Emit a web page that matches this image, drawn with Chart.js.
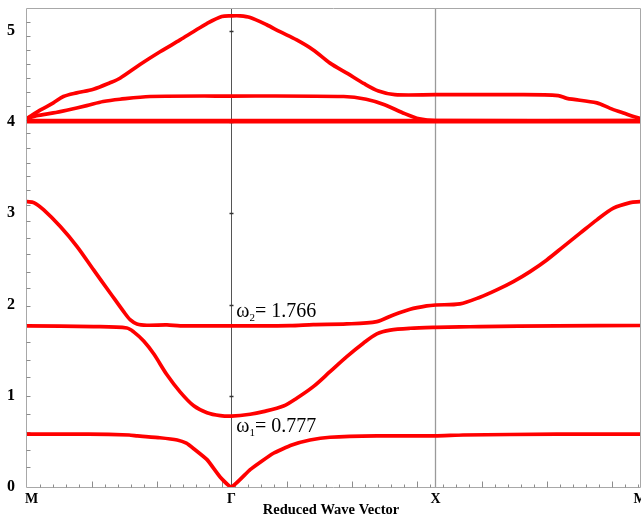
<!DOCTYPE html>
<html>
<head>
<meta charset="utf-8">
<script src="https://cdn.jsdelivr.net/npm/chart.js@4"></script>
<style>
  html, body { margin: 0; padding: 0; background: #ffffff; }
  canvas { display: block; }
</style>
</head>
<body>
<canvas id="bands" width="641" height="517"></canvas>
<script>
// Path through the Brillouin zone: M -> Γ -> X -> M, each leg of unit length
const symmetryLabels = ['M', 'Γ', 'X', 'M'];
const symmetryK = [0, 1, 2, 3];
const yTickLabels = ['0', '1', '2', '3', '4', '5'];
const yTickValues = [0, 1, 2, 3, 4, 5];
// Minor tick marks along the frequency axis
const yMinorTicks = [0.214, 0.410, 0.606, 0.803, 1.000, 1.204, 1.393, 1.590, 1.786, 1.982,
  2.180, 2.358, 2.554, 2.733, 2.912, 3.089, 3.250, 3.411, 3.554, 3.715, 3.875, 4.025,
  4.178, 4.329, 4.482, 4.633, 4.786, 4.947, 5.097];

// Frequencies at Γ quoted in the annotations
const omega1 = 0.777;
const omega2 = 1.766;

// Dispersion branches: reduced wave vector (k) and normalised frequency (w)
const band1K = [0, 0.3, 0.5, 0.54, 0.65, 0.735, 0.78, 0.816, 0.881, 0.945, 1.0, 1.092, 1.206, 1.296, 1.385, 1.483, 1.712, 2.0, 2.134, 2.593, 3.0];
const band1W = [0.58, 0.58, 0.57, 0.56, 0.54, 0.515, 0.48, 0.42, 0.30, 0.11, 0, 0.19, 0.37, 0.46, 0.515, 0.545, 0.56, 0.56, 0.57, 0.58, 0.58];

const band2K = [0, 0.326, 0.489, 0.522, 0.571, 0.620, 0.685, 0.750, 0.816, 0.881, 0.946, 1.0, 1.092, 1.157, 1.255, 1.320, 1.401, 1.483, 1.565, 1.646, 1.712, 1.777, 1.875, 2.0, 2.119, 2.217, 2.593, 3.0];
const band2W = [1.765, 1.758, 1.743, 1.70, 1.60, 1.46, 1.23, 1.04, 0.89, 0.815, 0.783, omega1, 0.797, 0.826, 0.888, 0.973, 1.10, 1.264, 1.429, 1.576, 1.678, 1.72, 1.74, 1.75, 1.755, 1.758, 1.766, 1.77];

const band3K = [0, 0.033, 0.082, 0.163, 0.245, 0.326, 0.408, 0.473, 0.506, 0.538, 0.587, 0.685, 0.750, 1.0, 1.287, 1.401, 1.565, 1.712, 1.793, 1.875, 1.956, 2.0, 2.119, 2.217, 2.299, 2.380, 2.462, 2.544, 2.625, 2.707, 2.789, 2.870, 2.952, 3.0];
const band3W = [3.128, 3.117, 3.037, 2.854, 2.635, 2.379, 2.124, 1.922, 1.831, 1.787, 1.773, 1.776, 1.766, omega2, 1.769, 1.78, 1.787, 1.813, 1.886, 1.948, 1.985, 1.995, 2.007, 2.08, 2.16, 2.251, 2.361, 2.489, 2.635, 2.782, 2.928, 3.056, 3.117, 3.128];

const band4K = [0, 1, 2, 3];
const band4W = [4.01, 4.01, 4.01, 4.01];

const band5K = [0, 0.047, 0.129, 0.194, 0.292, 0.373, 0.455, 0.602, 1.0, 1.55, 1.66, 1.75, 1.84, 1.92, 2.0, 3.0];
const band5W = [4.04, 4.07, 4.10, 4.13, 4.18, 4.225, 4.25, 4.28, 4.285, 4.28, 4.25, 4.19, 4.10, 4.035, 4.015, 4.015];

const band6K = [0, 0.064, 0.129, 0.178, 0.243, 0.325, 0.406, 0.455, 0.553, 0.651, 0.749, 0.814, 0.880, 0.953, 1.0, 1.043, 1.092, 1.173, 1.238, 1.320, 1.401, 1.483, 1.57, 1.65, 1.72, 1.8, 2.0, 2.4, 2.6, 2.642, 2.789, 2.854, 2.919, 2.968, 3.0];
const band6W = [4.04, 4.13, 4.21, 4.28, 4.32, 4.36, 4.43, 4.48, 4.63, 4.77, 4.90, 4.99, 5.08, 5.157, 5.164, 5.164, 5.146, 5.066, 4.99, 4.90, 4.79, 4.646, 4.53, 4.42, 4.34, 4.30, 4.30, 4.30, 4.29, 4.26, 4.21, 4.15, 4.10, 4.06, 4.04];

const RED = '#ff0000';
const SERIF = '"Liberation Serif", "Times New Roman", serif';

function points(ks, ws) {
  return ks.map((k, i) => ({ x: k, y: ws[i] }));
}

function branch(ks, ws, width, tension) {
  return {
    data: points(ks, ws),
    showLine: true,
    borderColor: RED,
    backgroundColor: RED,
    borderWidth: width,
    pointRadius: 0,
    pointHoverRadius: 0,
    tension: tension,
    borderJoinStyle: 'round',
    borderCapStyle: 'round',
    fill: false
  };
}

// Frame, symmetry-point verticals, inward tick marks and all text
const bandFrame = {
  id: 'bandFrame',
  beforeDatasetsDraw(chart) {
    const { ctx, chartArea: a, scales: { x, y } } = chart;
    ctx.save();
    ctx.lineWidth = 1;

    // vertical lines at Γ and X
    const gx = Math.round(x.getPixelForValue(symmetryK[1])) + 0.5;
    const xx = Math.round(x.getPixelForValue(symmetryK[2])) - 0.5;
    ctx.strokeStyle = '#9a9a9a';
    ctx.lineWidth = 1.3;
    ctx.beginPath();
    ctx.moveTo(xx, a.top); ctx.lineTo(xx, a.bottom);
    ctx.stroke();
    ctx.strokeStyle = '#555555';
    ctx.lineWidth = 1;
    ctx.beginPath();
    ctx.moveTo(gx, a.top); ctx.lineTo(gx, a.bottom);
    ctx.stroke();
    // small ticks on the Γ line at whole frequencies
    ctx.strokeStyle = '#333333';
    ctx.lineWidth = 1.5;
    yTickValues.slice(1).forEach(v => {
      const py = Math.round(y.getPixelForValue(v)) + 0.5;
      ctx.beginPath();
      ctx.moveTo(gx - 2, py); ctx.lineTo(gx + 2, py);
      ctx.stroke();
    });

    // outer frame
    ctx.strokeStyle = '#a8a8a8';
    ctx.lineWidth = 1;
    const L = a.left - 0.5, R = a.right + 0.5, T = a.top + 0.5, B = a.bottom + 0.5;
    ctx.beginPath();
    ctx.moveTo(L, T); ctx.lineTo(R, T);
    ctx.moveTo(R, T); ctx.lineTo(R, B);
    ctx.moveTo(L, T); ctx.lineTo(L, B);
    ctx.moveTo(L, B); ctx.lineTo(R, B);
    ctx.stroke();

    // tick marks on the wave-vector axis (pointing into the plot)
    const step = 1 / (5 * Math.PI);
    ctx.strokeStyle = '#8c8c8c';
    for (let n = 1; n * step <= symmetryK[3] + 1e-9; n++) {
      const px = Math.round(x.getPixelForValue(n * step)) + 0.5;
      const len = n % 5 === 0 ? 6 : 3;
      ctx.beginPath();
      ctx.moveTo(px, B); ctx.lineTo(px, B - len);
      ctx.stroke();
    }
    // tick marks on the frequency axis
    yMinorTicks.forEach(v => {
      const py = Math.round(y.getPixelForValue(v)) + 0.5;
      ctx.beginPath();
      ctx.moveTo(L, py); ctx.lineTo(L + 4, py);
      ctx.stroke();
    });
    ctx.restore();
  },
  afterDraw(chart) {
    const { ctx, chartArea: a, scales: { x, y } } = chart;
    ctx.save();
    ctx.fillStyle = '#000000';

    // frequency labels
    ctx.font = 'bold 16px ' + SERIF;
    ctx.textAlign = 'left';
    ctx.textBaseline = 'middle';
    yTickValues.forEach((v, i) => {
      ctx.fillText(yTickLabels[i], 7, y.getPixelForValue(v));
    });

    // symmetry point labels
    ctx.font = 'bold 14px ' + SERIF;
    ctx.textBaseline = 'alphabetic';
    symmetryK.forEach((k, i) => {
      const px = x.getPixelForValue(k);
      if (i === 0) {
        ctx.textAlign = 'left';
        ctx.fillText(symmetryLabels[i], px - 2, a.bottom + 16);
      } else {
        ctx.textAlign = 'center';
        ctx.fillText(symmetryLabels[i], px, a.bottom + 16);
      }
    });

    // axis title
    ctx.font = 'bold 14.5px ' + SERIF;
    ctx.textAlign = 'center';
    ctx.fillText('Reduced Wave Vector', 331, a.bottom + 27);

    // annotations of the Γ-point frequencies
    const note = (idx, value, dy) => {
      const px = x.getPixelForValue(symmetryK[1]) + 5;
      const py = y.getPixelForValue(value) + dy;
      ctx.textAlign = 'left';
      ctx.font = '20px ' + SERIF;
      ctx.fillText('ω', px, py);
      let w = ctx.measureText('ω').width;
      ctx.font = '11px ' + SERIF;
      ctx.fillText(String(idx), px + w, py + 4);
      w += ctx.measureText(String(idx)).width;
      ctx.font = '20px ' + SERIF;
      ctx.fillText('= ' + value.toFixed(3), px + w, py);
    };
    note(2, omega2, -9);
    note(1, omega1, 15.5);
    ctx.restore();
  }
};

new Chart(document.getElementById('bands'), {
  type: 'scatter',
  data: {
    datasets: [
      branch(band1K, band1W, 3.7, 0.15),
      branch(band2K, band2W, 3.7, 0.3),
      branch(band3K, band3W, 3.7, 0.3),
      branch(band4K, band4W, 4.7, 0),
      branch(band5K, band5W, 3.7, 0.3),
      branch(band6K, band6W, 3.7, 0.3)
    ]
  },
  options: {
    responsive: false,
    devicePixelRatio: 1,
    animation: false,
    layout: { padding: { left: 27, right: 1, top: 8, bottom: 30 } },
    plugins: { legend: { display: false }, tooltip: { enabled: false } },
    scales: {
      x: { type: 'linear', min: 0, max: 3, display: false },
      y: { type: 'linear', min: 0, max: 5.25, display: false }
    }
  },
  plugins: [bandFrame]
});
</script>
</body>
</html>
